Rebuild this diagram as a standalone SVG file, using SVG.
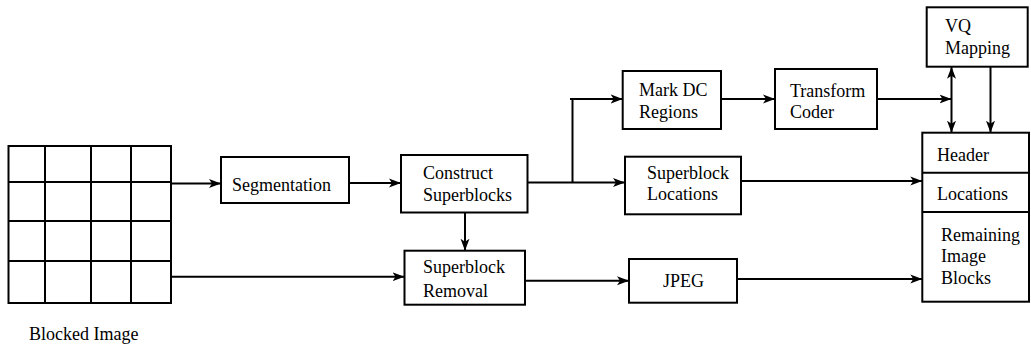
<svg xmlns="http://www.w3.org/2000/svg" width="1031" height="352" viewBox="0 0 1031 352">
<style>
.box{fill:#fff;stroke:#000;stroke-width:2}
.ln{fill:none;stroke:#000;stroke-width:2}
.t{font-family:"Liberation Serif","Times New Roman",serif;font-size:18px;fill:#000}
</style>
<defs>
<marker id="ah" markerWidth="14" markerHeight="12" refX="12" refY="6" orient="auto-start-reverse" markerUnits="userSpaceOnUse">
<path d="M0,1.5 L12,6 L0,10.5 L3,6 z" fill="#000"/>
</marker>
</defs>
<rect width="1031" height="352" fill="#fff"/>
<g id="blocked-image">
<rect x="8.5" y="146" width="162.5" height="157" class="box"/>
<path class="ln" d="M45,146 V303 M91,146 V303 M131,146 V303 M8.5,182 H171 M8.5,221 H171 M8.5,261 H171"/>
<text class="t" x="29" y="340">Blocked Image</text>
</g>
<g id="segmentation">
<rect x="221" y="157" width="128" height="46" class="box"/>
<text class="t" x="232" y="191">Segmentation</text>
</g>
<g id="construct">
<rect x="401" y="155" width="126.5" height="57.5" class="box"/>
<text class="t" x="423" y="179">Construct</text>
<text class="t" x="423" y="201">Superblocks</text>
</g>
<g id="removal">
<rect x="404.5" y="250.7" width="120.5" height="54" class="box"/>
<text class="t" x="423" y="273">Superblock</text>
<text class="t" x="423" y="297">Removal</text>
</g>
<g id="markdc">
<rect x="622.7" y="71" width="98.3" height="58" class="box"/>
<text class="t" x="639" y="96">Mark DC</text>
<text class="t" x="639" y="118">Regions</text>
</g>
<g id="locations">
<rect x="625" y="156.7" width="116" height="57.6" class="box"/>
<text class="t" x="647" y="179">Superblock</text>
<text class="t" x="647" y="200">Locations</text>
</g>
<g id="transform">
<rect x="775" y="69" width="102" height="60" class="box"/>
<text class="t" x="790" y="97">Transform</text>
<text class="t" x="790" y="118">Coder</text>
</g>
<g id="jpeg">
<rect x="629" y="259" width="108" height="43.7" class="box"/>
<text class="t" x="663" y="287">JPEG</text>
</g>
<g id="vq">
<rect x="926.7" y="7.3" width="101" height="59.4" class="box"/>
<text class="t" x="945" y="32">VQ</text>
<text class="t" x="945" y="54">Mapping</text>
</g>
<g id="output">
<rect x="922.3" y="132.7" width="106.7" height="169" class="box"/>
<path class="ln" d="M922.3,172.7 H1029 M922.3,212 H1029"/>
<text class="t" x="937" y="161">Header</text>
<text class="t" x="937" y="200">Locations</text>
<text class="t" x="941" y="241">Remaining</text>
<text class="t" x="941" y="262">Image</text>
<text class="t" x="941" y="284">Blocks</text>
</g>
<g id="connectors">
<path class="ln" d="M171,183.5 H221" marker-end="url(#ah)"/>
<path class="ln" d="M349,183 H401" marker-end="url(#ah)"/>
<path class="ln" d="M527,182.5 H625" marker-end="url(#ah)"/>
<path class="ln" d="M572.5,182.5 V99"/>
<path class="ln" d="M570,99 H622.7" marker-end="url(#ah)"/>
<path class="ln" d="M721,99 H775" marker-end="url(#ah)"/>
<path class="ln" d="M877,99 H951.5" marker-end="url(#ah)"/>
<path class="ln" d="M951.5,66.7 V132.7" marker-start="url(#ah)" marker-end="url(#ah)"/>
<path class="ln" d="M990.5,66.7 V132.7" marker-end="url(#ah)"/>
<path class="ln" d="M741,181 H922.3" marker-end="url(#ah)"/>
<path class="ln" d="M465,212.7 V250.7" marker-end="url(#ah)"/>
<path class="ln" d="M171,276.7 H404.5" marker-end="url(#ah)"/>
<path class="ln" d="M525,280.7 H629" marker-end="url(#ah)"/>
<path class="ln" d="M737,279 H922.3" marker-end="url(#ah)"/>
</g>
</svg>
